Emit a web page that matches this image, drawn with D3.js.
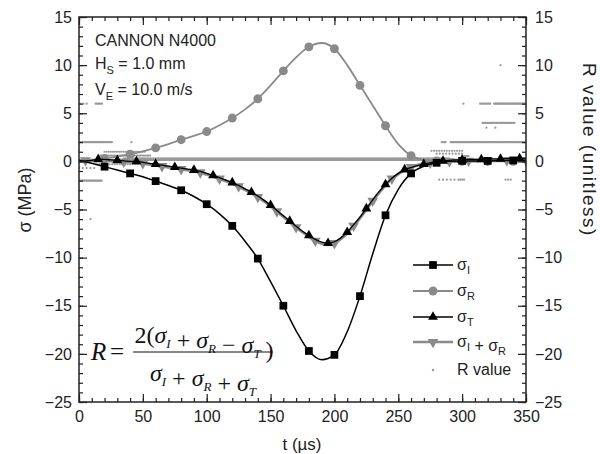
<!DOCTYPE html>
<html>
<head>
<meta charset="utf-8">
<script src="https://cdn.jsdelivr.net/npm/d3@7"></script>
<style>
    body { margin: 0; background: #fff; }
    svg text { font-family: "Liberation Sans", Arial, sans-serif; }
    svg text.serif { font-family: "Liberation Serif", "Times New Roman", serif; }
</style>
</head>
<body>
<div id="chartContainer"></div>
<script>
// time grids (µs)
const t10 = d3.range(0, 351, 10);
const t5 = d3.range(0, 351, 5);

// incident stress sigma_I (MPa), every 10 µs
const sigmaI = [0.1, -0.2, -0.55, -0.9, -1.25, -1.6, -2.05, -2.5, -3.0, -3.65,
    -4.45, -5.45, -6.7, -8.3, -10.1, -12.5, -15.0, -17.6, -19.7, -20.6,
    -20.1, -17.7, -14.0, -9.6, -5.6, -2.9, -1.25, -0.5, -0.15, 0.0,
    0.05, 0.05, 0.05, 0.1, 0.1, 0.1];

// reflected stress sigma_R (MPa), every 10 µs
const sigmaR = [0.0, 0.1, 0.3, 0.5, 0.75, 1.05, 1.4, 1.8, 2.25, 2.65,
    3.1, 3.75, 4.5, 5.4, 6.5, 7.9, 9.4, 10.8, 11.9, 12.3,
    11.7, 10.0, 7.9, 5.8, 3.7, 1.8, 0.6, 0.15, 0.05, 0.0,
    0.0, 0.0, 0.0, 0.0, 0.0, 0.0];

// transmitted stress sigma_T (MPa), every 5 µs
const sigmaT = [0.0, 0.05, 0.1, 0.2, 0.2, 0.15, 0.1, 0.05, 0.0, 0.0,
    -0.1, -0.2, -0.3, -0.4, -0.5, -0.6, -0.7, -0.8, -0.9, -1.05,
    -1.25, -1.45, -1.7, -1.95, -2.2, -2.5, -2.85, -3.2, -3.6, -4.05,
    -4.55, -5.1, -5.65, -6.2, -6.75, -7.25, -7.7, -8.1, -8.4, -8.5,
    -8.35, -7.95, -7.35, -6.6, -5.8, -4.9, -4.0, -3.15, -2.4, -1.75,
    -1.25, -0.85, -0.65, -0.45, -0.3, -0.15, -0.05, 0.05, 0.1, 0.15,
    0.15, 0.2, 0.2, 0.2, 0.25, 0.25, 0.25, 0.3, 0.3, 0.3, 0.3];

// sigma_I + sigma_R (MPa), every 5 µs
const sigmaIR = [0.0, 0.1, 0.1, 0.15, 0.1, 0.05, 0.0, -0.05, -0.1, -0.15,
    -0.2, -0.3, -0.4, -0.5, -0.6, -0.7, -0.8, -0.9, -1.0, -1.15,
    -1.35, -1.55, -1.8, -2.05, -2.3, -2.6, -2.95, -3.3, -3.7, -4.15,
    -4.65, -5.2, -5.75, -6.3, -6.85, -7.35, -7.8, -8.25, -8.55, -8.65,
    -8.5, -8.05, -7.45, -6.7, -5.9, -5.0, -4.1, -3.25, -2.45, -1.8,
    -1.3, -0.9, -0.6, -0.4, -0.25, -0.15, -0.1, -0.05, 0.0, 0.0,
    0.05, 0.05, 0.05, 0.1, 0.1, 0.1, 0.1, 0.1, 0.1, 0.1, 0.1];

// R value (unitless): runs of dots [t start, t end, R, dot spacing]
const rValueRuns = [
    [0, 350, 0.15, 0.5], [35, 290, 0.3, 0.7],
    [1, 8, 6.0, 2.5], [13, 18, 6.0, 1],
    [1, 26, 2.0, 0.8], [41, 41, 2.0, 1],
    [1, 18, -2.0, 0.8], [9, 9, -6.0, 1],
    [0, 12, -0.7, 3], [20, 52, 1.0, 1.5], [16, 56, 0.6, 1.2], [14, 46, -0.3, 2],
    [301, 301, 6.0, 1], [314, 322, 6.0, 1], [325, 350, 6.0, 0.7],
    [316, 341, 4.0, 1], [319, 319, 3.5, 1], [326, 326, 3.5, 1],
    [284, 287, 2.0, 1], [291, 350, 2.0, 0.7],
    [276, 300, 1.1, 2], [280, 300, 0.8, 2.5], [300, 305, 0.55, 1],
    [282, 294, -1.9, 3], [297, 302, -1.9, 1.5], [334, 338, -1.9, 2],
    [330, 330, 10.0, 1]
];

const xTicks = [0, 50, 100, 150, 200, 250, 300, 350];
const yTicks = [15, 10, 5, 0, -5, -10, -15, -20, -25];

const width = 600;
const height = 454;
const margin = { top: 17, right: 74, bottom: 52, left: 79 };
const black = '#000';
const gray = '#8a8a8a';

const svg = d3.select('#chartContainer')
    .append('svg')
    .attr('width', width)
    .attr('height', height)
    .style('font', '16px "Liberation Sans", Arial, sans-serif');

const scX = d3.scaleLinear()
    .domain([0, 350])
    .range([margin.left, width - margin.right]);

const scY = d3.scaleLinear()
    .domain([-25, 15])
    .range([height - margin.bottom, margin.top]);

svg.append('clipPath').attr('id', 'plotClip')
    .append('rect')
    .attr('x', margin.left).attr('y', margin.top)
    .attr('width', width - margin.left - margin.right)
    .attr('height', height - margin.top - margin.bottom);

const plot = svg.append('g').attr('clip-path', 'url(#plotClip)');

// R value dots
const rDots = [];
rValueRuns.forEach(r => {
    for (let t = r[0]; t <= r[1] + 1e-9; t += r[3]) rDots.push({ t: t, v: r[2] });
});
plot.append('g')
    .selectAll('circle')
    .data(rDots)
    .enter()
    .append('circle')
    .attr('r', 1.1)
    .attr('fill', '#999')
    .attr('cx', d => scX(d.t))
    .attr('cy', d => scY(d.v));

const lineMaker = d3.line()
    .x(d => scX(d[0]))
    .y(d => scY(d[1]))
    .curve(d3.curveMonotoneX);

const series = [
    { key: 'R', t: t10, v: sigmaR, color: gray, sw: 1.8, sym: d3.symbolCircle, size: 62, rot: 0, every: 2, offset: 0 },
    { key: 'IR', t: t5, v: sigmaIR, color: gray, sw: 3, sym: d3.symbolTriangle, size: 50, rot: 180, every: 3, offset: 1 },
    { key: 'T', t: t5, v: sigmaT, color: black, sw: 1.3, sym: d3.symbolTriangle, size: 42, rot: 0, every: 3, offset: 0 },
    { key: 'I', t: t10, v: sigmaI, color: black, sw: 1.5, sym: d3.symbolSquare, size: 60, rot: 0, every: 2, offset: 0 }
];

series.forEach(s => {
    const pts = s.t.map((t, i) => [t, s.v[i]]);
    plot.append('path')
        .attr('fill', 'none')
        .attr('stroke', s.color)
        .attr('stroke-width', s.sw)
        .attr('d', lineMaker(pts));
    plot.append('g')
        .selectAll('path')
        .data(pts.filter((p, i) => i > 0 && i % s.every === s.offset))
        .enter()
        .append('path')
        .attr('d', d3.symbol().type(s.sym).size(s.size))
        .attr('fill', s.color)
        .attr('transform', d => `translate(${scX(d[0])},${scY(d[1])}) rotate(${s.rot})`);
});

// axes with inward ticks
function styleAxis(g) {
    g.select('.domain').remove();
    g.selectAll('line').attr('stroke', '#222').attr('stroke-width', 1.2);
    g.selectAll('text').attr('fill', '#222').style('font-size', '16px');
}

const minorX = d3.range(0, 351, 10);
const minorY = d3.range(-25, 16, 1);

svg.append('g')
    .attr('transform', `translate(0, ${height - margin.bottom})`)
    .call(d3.axisBottom(scX).tickValues(minorX).tickSize(-4).tickFormat(''))
    .call(styleAxis);
svg.append('g')
    .attr('transform', `translate(0, ${height - margin.bottom})`)
    .call(d3.axisBottom(scX).tickValues(xTicks).tickSize(-8).tickPadding(9))
    .call(styleAxis);
svg.append('g')
    .attr('transform', `translate(0, ${margin.top})`)
    .call(d3.axisTop(scX).tickValues(minorX).tickSize(-4).tickFormat(''))
    .call(styleAxis);
svg.append('g')
    .attr('transform', `translate(0, ${margin.top})`)
    .call(d3.axisTop(scX).tickValues(xTicks).tickSize(-8).tickFormat(''))
    .call(styleAxis);

svg.append('g')
    .attr('transform', `translate(${margin.left}, 0)`)
    .call(d3.axisLeft(scY).tickValues(minorY).tickSize(-4).tickFormat(''))
    .call(styleAxis);
svg.append('g')
    .attr('transform', `translate(${margin.left}, 0)`)
    .call(d3.axisLeft(scY).tickValues(yTicks).tickSize(-8).tickPadding(7))
    .call(styleAxis);
svg.append('g')
    .attr('transform', `translate(${width - margin.right}, 0)`)
    .call(d3.axisRight(scY).tickValues(minorY).tickSize(-4).tickFormat(''))
    .call(styleAxis);
svg.append('g')
    .attr('transform', `translate(${width - margin.right}, 0)`)
    .call(d3.axisRight(scY).tickValues(yTicks).tickSize(-8).tickPadding(9))
    .call(styleAxis);

svg.append('rect')
    .attr('x', margin.left).attr('y', margin.top)
    .attr('width', width - margin.left - margin.right)
    .attr('height', height - margin.top - margin.bottom)
    .attr('fill', 'none')
    .attr('stroke', '#222')
    .attr('stroke-width', 1.5);

// axis titles
svg.append('text')
    .attr('transform', 'translate(302, 450)')
    .attr('text-anchor', 'middle')
    .attr('fill', '#222')
    .style('font-size', '17px')
    .text('t  (µs)');

svg.append('text')
    .attr('transform', 'translate(31, 200) rotate(-90)')
    .attr('text-anchor', 'middle')
    .attr('fill', '#222')
    .style('font-size', '18px')
    .text('σ  (MPa)');

svg.append('text')
    .attr('transform', 'translate(583, 150) rotate(90)')
    .attr('text-anchor', 'middle')
    .attr('fill', '#222')
    .style('font-size', '19px')
    .style('letter-spacing', '1.5px')
    .text('R value  (unitless)');

// annotation
const note = svg.append('g').attr('fill', '#222').style('font-size', '16px');
note.append('text').attr('x', 95).attr('y', 46).text('CANNON N4000');
const hs = note.append('text').attr('x', 95).attr('y', 69);
hs.append('tspan').text('H');
hs.append('tspan').attr('dy', 5).style('font-size', '11px').text('S');
hs.append('tspan').attr('dy', -5).text(' = 1.0 mm');
const ve = note.append('text').attr('x', 95).attr('y', 95);
ve.append('tspan').text('V');
ve.append('tspan').attr('dy', 5).style('font-size', '11px').text('E');
ve.append('tspan').attr('dy', -5).text(' = 10.0 m/s');

// legend
const legendItems = [
    { key: 'I', sub: ['I'] },
    { key: 'R', sub: ['R'] },
    { key: 'T', sub: ['T'] },
    { key: 'IR', sub: ['I', 'R'] },
    { key: 'Rv', sub: null }
];
const legendY = [265, 291, 317, 342, 370];
const legend = svg.append('g');
legendItems.forEach((it, i) => {
    const y = legendY[i];
    const s = series.find(d => d.key === it.key);
    if (s) {
        legend.append('line')
            .attr('x1', 413).attr('x2', 453)
            .attr('y1', y).attr('y2', y)
            .attr('stroke', s.color).attr('stroke-width', s.sw > 2 ? 2.5 : s.sw);
        legend.append('path')
            .attr('d', d3.symbol().type(s.sym).size(s.size))
            .attr('fill', s.color)
            .attr('transform', `translate(433,${y}) rotate(${s.rot})`);
    } else {
        legend.append('circle').attr('cx', 433).attr('cy', y).attr('r', 1.2).attr('fill', '#999');
    }
    const txt = legend.append('text').attr('x', 457).attr('y', y + 5)
        .attr('fill', '#222').style('font-size', '16px');
    if (it.sub) {
        it.sub.forEach((sb, j) => {
            if (j > 0) txt.append('tspan').text(' + ');
            txt.append('tspan').text('σ');
            txt.append('tspan').attr('dy', 4).style('font-size', '11px').text(sb);
            txt.append('tspan').attr('dy', -4).text('');
        });
    } else {
        txt.text('R value');
    }
});

// formula
const f = svg.append('g').attr('fill', '#111');
f.append('text').attr('class', 'serif').attr('x', 91).attr('y', 360)
    .style('font-size', '25px').style('font-style', 'italic').text('R');
f.append('text').attr('class', 'serif').attr('x', 110).attr('y', 360)
    .style('font-size', '25px').text('=');

function sigmaSum(g, x, y, parts) {
    const t = g.append('text').attr('class', 'serif')
        .attr('x', x).attr('y', y).attr('text-anchor', 'middle').style('font-size', '24px');
    parts.forEach(p => {
        if (p.op) t.append('tspan').text(p.op);
        if (p.sub) {
            t.append('tspan').style('font-style', 'italic').text('σ');
            t.append('tspan').attr('dy', 5).style('font-size', '13px').style('font-style', 'italic').text(p.sub);
            t.append('tspan').attr('dy', -5).text('');
        }
        if (p.raw) t.append('tspan').text(p.raw);
    });
    return t;
}
sigmaSum(f, 204, 343, [
    { raw: '2(' }, { sub: 'I' }, { op: ' + ', sub: 'R' }, { op: ' − ', sub: 'T' }, { raw: '\u2009)' }
]);
f.append('line')
    .attr('x1', 133).attr('x2', 273)
    .attr('y1', 352).attr('y2', 352)
    .attr('stroke', '#111').attr('stroke-width', 1.2);
sigmaSum(f, 203, 381, [
    { sub: 'I' }, { op: ' + ', sub: 'R' }, { op: ' + ', sub: 'T' }
]);
</script>
</body>
</html>
